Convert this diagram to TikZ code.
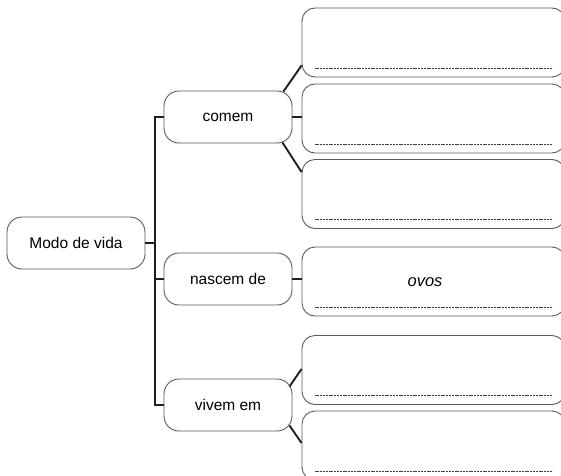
\documentclass[tikz,border=0pt]{standalone}
\usepackage{fontspec}
\setmainfont{Liberation Sans}
\usetikzlibrary{calc}
\tikzset{
  lbox/.style={draw=black!65, line width=0.9pt, rounded corners=15pt, minimum width=138pt, minimum height=52pt, inner sep=0pt, font=\fontsize{15.5}{18}\selectfont},
  rbox/.style={draw=black!65, line width=0.9pt, rounded corners=13pt, minimum width=263pt, minimum height=69pt, inner sep=0pt, font=\fontsize{15.5}{18}\selectfont\itshape},
  conn/.style={draw=black!88, line width=1.9pt},
  fill/.style={draw=black!75, line width=1pt, dash pattern=on 2pt off 0.8pt}
}
\begin{document}
\begin{tikzpicture}[x=1pt,y=1pt]
\clip (0,0) rectangle (561,475);
\useasboundingbox (0,0) rectangle (561,475);
\node[lbox] (modo) at (76,232) {Modo de vida};
\node[lbox, minimum width=128pt] (comem) at (228,358) {comem};
\node[lbox, minimum width=128pt] (nascem) at (228,196) {nascem de};
\node[lbox, minimum width=128pt] (vivem) at (228,70) {vivem em};
\node[rbox] (b1) at (433.5,432.5) {};
\node[rbox] (b2) at (433.5,356.5) {};
\node[rbox] (b3) at (433.5,281) {};
\node[rbox] (b4) at (433.5,193.5) {};
\node[rbox] (b5) at (433.5,105) {};
\node[rbox] (b6) at (433.5,29.5) {};
\node[font=\fontsize{16.5}{19}\selectfont\itshape] (ovos) at (425,193) {ovos};
\coordinate (trunk) at (155,232);
% dashed answer lines
\foreach \b in {b1,b2,b3,b4,b5,b6}{
  \draw[fill] ($(\b.south west)+(13,9)$) -- ($(\b.south west)+(251,9)$);
}
% trunk connectors
\draw[conn] (modo.east) -- (trunk);
\draw[conn] (comem.west) -| (trunk) |- (vivem.west);
\draw[conn] (trunk |- nascem.west) -- (nascem.west);
% branch connectors
\draw[conn] ($(comem.north east)+(-9,-1)$) -- ($(b1.south west)+(0,12)$);
\draw[conn] (comem.east) -- (comem.east -| b2.west);
\draw[conn] ($(comem.south east)+(-10,1)$) -- ($(b3.north west)+(0,-13)$);
\draw[conn] (nascem.east) -- (nascem.east -| b4.west);
\draw[conn] ($(vivem.north east)+(-3,-8)$) -- ($(b5.south west)+(0,36)$);
\draw[conn] ($(vivem.south east)+(-3,6)$) -- ($(b6.center -| b6.west)+(0,2.5)$);
\end{tikzpicture}
\end{document}
